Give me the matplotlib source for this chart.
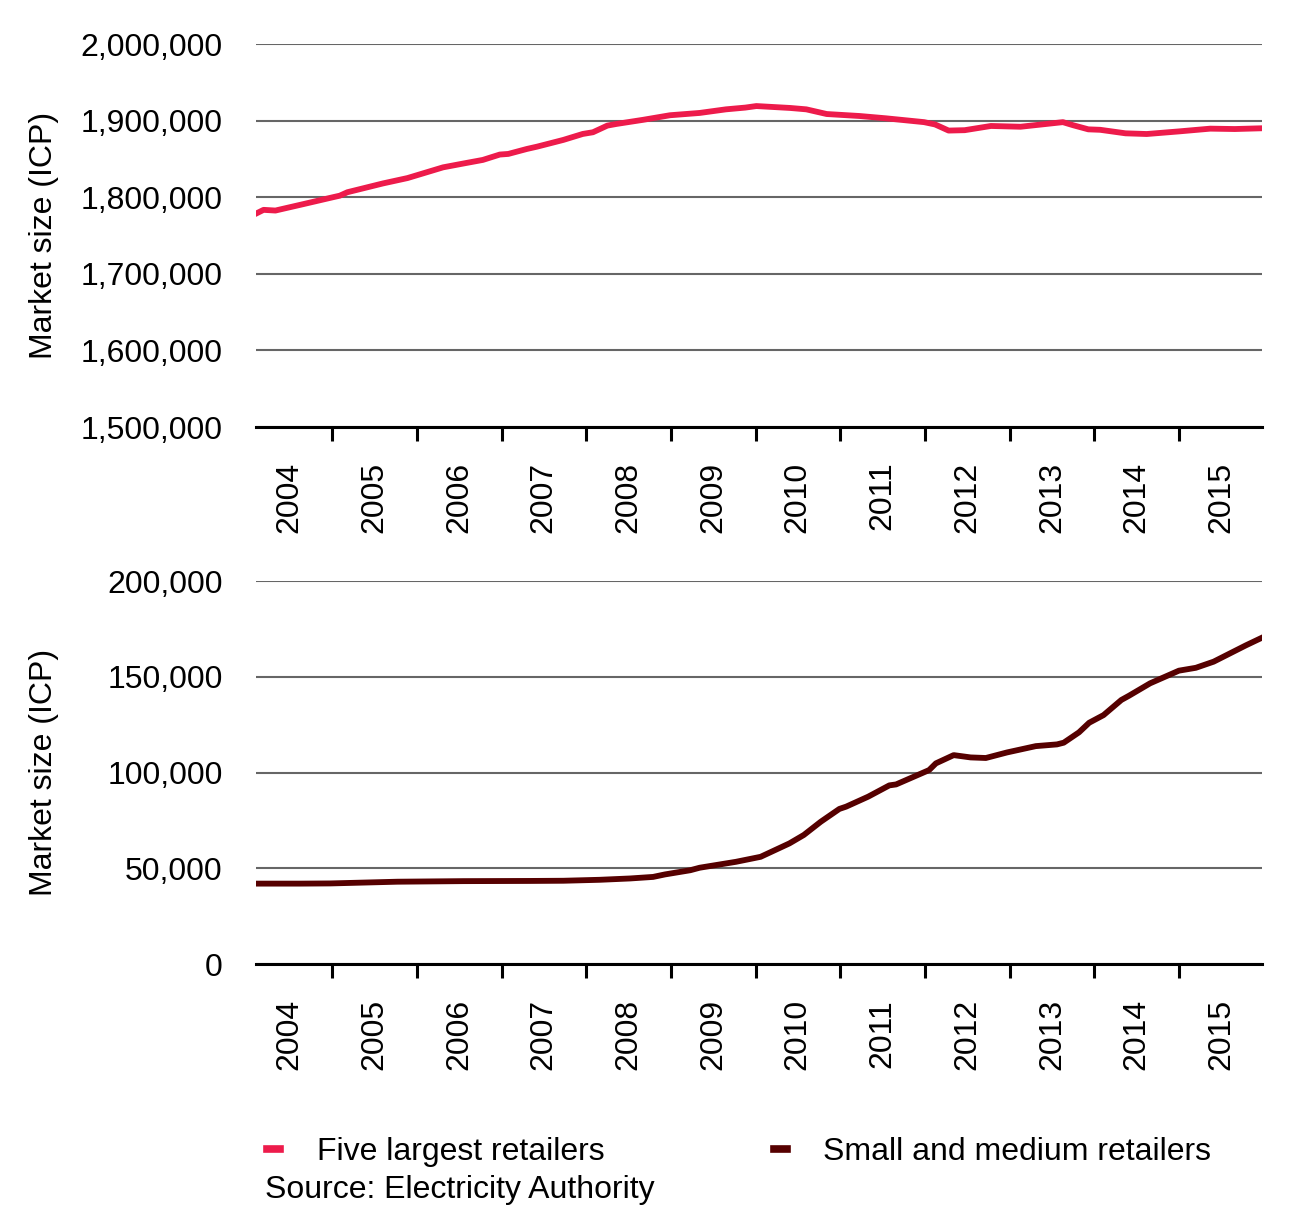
import numpy as np
import matplotlib
matplotlib.use('Agg')
import matplotlib.pyplot as plt
from matplotlib.lines import Line2D
from matplotlib.ticker import FuncFormatter, FixedLocator

plt.rcParams['font.family'] = ['Liberation Sans', 'DejaVu Sans']

# five largest retailers (year, ICPs)
big_years = [2004.09, 2004.19, 2004.33, 2004.66, 2005.01, 2005.09, 2005.18, 2005.60, 2005.89,
             2006.07, 2006.31, 2006.55, 2006.78, 2006.98, 2007.08, 2007.30, 2007.42, 2007.73,
             2007.96, 2008.08, 2008.25, 2008.36, 2008.67, 2008.99, 2009.34, 2009.65, 2009.88,
             2010.01, 2010.41, 2010.60, 2010.84, 2011.23, 2011.54, 2011.99, 2012.12, 2012.28,
             2012.47, 2012.78, 2013.13, 2013.63, 2013.75, 2013.93, 2014.07, 2014.37, 2014.62,
             2015.01, 2015.37, 2015.66, 2015.98]
big_icp = [1778000, 1783500, 1782600, 1791000, 1800000, 1802000, 1806500, 1818000, 1825000,
           1831000, 1839000, 1844000, 1848700, 1855700, 1856500, 1863000, 1866000, 1874800,
           1882600, 1884800, 1893500, 1895700, 1901000, 1907000, 1910000, 1914700, 1917000,
           1919000, 1916500, 1914700, 1908600, 1906000, 1903000, 1898000, 1895000, 1887000,
           1887500, 1893000, 1892000, 1898000, 1894000, 1888600, 1888000, 1883400, 1882500,
           1886000, 1889500, 1889000, 1890000]

# small and medium retailers
small_years = [2004.09, 2004.62, 2004.98, 2005.77, 2006.55, 2007.34, 2007.73, 2008.16, 2008.52,
               2008.79, 2008.93, 2009.23, 2009.34, 2009.77, 2010.06, 2010.40, 2010.57, 2010.77,
               2010.99, 2011.07, 2011.33, 2011.58, 2011.66, 2012.05, 2012.13, 2012.34, 2012.54,
               2012.72, 2012.97, 2013.31, 2013.56, 2013.64, 2013.82, 2013.94, 2014.11, 2014.32,
               2014.41, 2014.66, 2015.00, 2015.20, 2015.41, 2015.79, 2015.98]
small_icp = [42000, 42000, 42100, 43000, 43300, 43400, 43500, 44000, 44700,
             45500, 46800, 49000, 50300, 53400, 56000, 63000, 67400, 74300,
             81000, 82200, 87400, 93300, 93800, 101300, 104800, 109100, 107900,
             107600, 110500, 113800, 114700, 115600, 121000, 126000, 130000, 137900,
             140100, 146600, 153200, 154700, 157900, 166400, 170400]

year_labels = [str(y) for y in range(2004, 2016)]

red = '#ED1B4B'
dark = '#560000'
fs = 23

fig = plt.figure(figsize=(12.92, 12.09), dpi=100)
ax1 = fig.add_axes([0.1981, 0.6468, 0.7786, 0.3168])
ax2 = fig.add_axes([0.1981, 0.2026, 0.7786, 0.3168])

comma = FuncFormatter(lambda v, p: f'{v:,.0f}')

def style(ax, ylim, step):
    ax.set_xlim(2004.1, 2015.98)
    ax.set_ylim(*ylim)
    ax.set_yticks(np.arange(ylim[0], ylim[1] + 1, step))
    ax.yaxis.set_major_formatter(comma)
    ax.grid(axis='y', color='#666666', linewidth=1.5)
    ax.set_axisbelow(True)
    for s in ['top', 'right', 'left']:
        ax.spines[s].set_visible(False)
    ax.spines['bottom'].set_linewidth(2.2)
    ax.spines['bottom'].set_zorder(5)
    ax.tick_params(axis='y', length=0, pad=24, labelsize=fs)
    ax.xaxis.set_major_locator(FixedLocator(range(2005, 2016)))
    ax.xaxis.set_minor_locator(FixedLocator([y + 0.5 for y in range(2004, 2016)]))
    ax.xaxis.set_major_formatter(plt.NullFormatter())
    ax.set_xticklabels(year_labels, minor=True, rotation=90, fontsize=fs)
    ax.tick_params(axis='x', which='major', length=10, width=2.2, direction='out')
    ax.tick_params(axis='x', which='minor', length=0, pad=25)
    ax.set_ylabel('Market size (ICP)', fontsize=fs)
    ax.yaxis.set_label_coords(-0.196, 0.5)

ax1.plot(big_years, big_icp, color=red, linewidth=4.2, solid_joinstyle='round')
style(ax1, (1500000, 2000000), 100000)

ax2.plot(small_years, small_icp, color=dark, linewidth=4.2, solid_joinstyle='round')
style(ax2, (0, 200000), 50000)

handles = [Line2D([], [], color=red, linewidth=5.5),
           Line2D([], [], color=dark, linewidth=5.5)]
fig.legend(handles, ['Five largest retailers', 'Small and medium retailers'],
           loc='center left', bbox_to_anchor=(0.207, 0.047), ncol=2, frameon=False,
           fontsize=fs, handlelength=0.4, handletextpad=1.15, columnspacing=5.3,
           borderaxespad=0, borderpad=0)
fig.text(265 / 1292, 1 - 1190 / 1209, 'Source: Electricity Authority', fontsize=fs,
         ha='left', va='center')

fig.savefig('out.png', dpi=100)
